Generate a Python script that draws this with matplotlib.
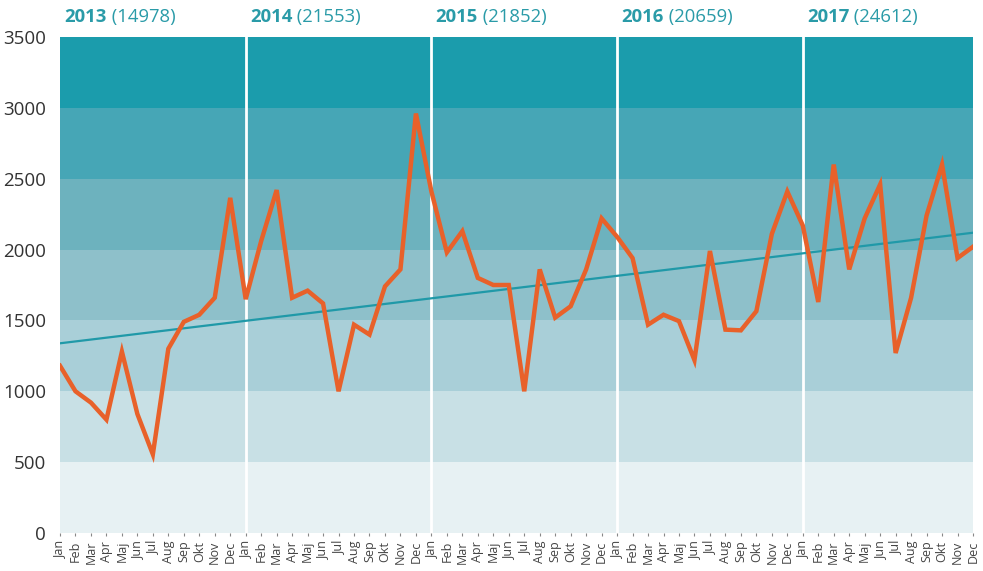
import matplotlib.pyplot as plt
import numpy as np

#################
# data          #
#################

months = ["Jan", "Feb", "Mar", "Apr", "Maj", "Jun",
          "Jul", "Aug", "Sep", "Okt", "Nov", "Dec"]
years = [2013, 2014, 2015, 2016, 2017]
year_totals = [14978, 21553, 21852, 20659, 24612]

v2013 = [1180, 1000, 920, 800, 1280, 840, 555, 1300, 1490, 1540, 1660, 2365]
v2014 = [1650, 2060, 2420, 1660, 1710, 1620, 1000, 1470, 1400, 1740, 1860, 2960]
v2015 = [2410, 1980, 2130, 1800, 1750, 1750, 1000, 1860, 1520, 1600, 1860, 2220]
v2016 = [2090, 1940, 1470, 1540, 1495, 1220, 1990, 1435, 1430, 1565, 2110, 2410]
v2017 = [2170, 1630, 2600, 1860, 2220, 2460, 1270, 1660, 2240, 2600, 1940, 2020]

band_edges = [0, 500, 1000, 1500, 2000, 2500, 3000, 3500]
band_colors = ["#E7F1F3", "#C8E0E5", "#A9CFD8", "#8EC0CA",
               "#6DB2BE", "#46A6B6", "#1B9CAC"]

#################
# plot          #
#################

plt.rcParams['font.family'] = ['Open Sans', 'DejaVu Sans']

values = np.array(v2013 + v2014 + v2015 + v2016 + v2017)
x = np.arange(len(values))
labels = months * len(years)

fig = plt.figure(figsize=(9.83, 5.71), dpi=100)
ax = fig.add_axes([60/983, 1 - 533/571, 913/983, 496/571])

for i in range(len(band_colors)):
    ax.axhspan(band_edges[i], band_edges[i+1], color=band_colors[i], lw=0, zorder=0)

# year separators
for k in range(1, len(years)):
    ax.axvline(12*k, color="white", lw=2, zorder=1)

# trend line
slope, icpt = np.polyfit(x, values, 1)
ax.plot(x, slope*x + icpt, color="#2099A8", lw=1.6, zorder=2)

ax.plot(x, values, color="#E8612A", lw=3.2, zorder=3, solid_joinstyle="miter")

# year labels
for k in range(len(years)):
    t = ax.annotate(str(years[k]), xy=(12*k, 1), xycoords=('data', 'axes fraction'),
                    xytext=(3, 8), textcoords='offset points',
                    fontsize=13.3, fontweight='bold', color="#2A9BA8",
                    ha='left', va='bottom')
    ax.annotate(" (%d)" % year_totals[k], xy=(1, 0), xycoords=t,
                fontsize=13.3, color="#2A9BA8", ha='left', va='bottom')

ax.set_xlim(0, len(values) - 1)
ax.set_ylim(0, 3500)
ax.set_yticks(band_edges)
ax.set_xticks(x)
ax.set_xticklabels(labels, rotation=90, fontsize=9, color="#444444")
ax.tick_params(axis='y', length=0, pad=10, labelsize=13.5, labelcolor="#333333")
ax.tick_params(axis='x', length=2.5, width=0.8, color="#888888", pad=3)
for s in ax.spines.values():
    s.set_visible(False)

plt.savefig("out.png", dpi=100)
plt.close()
